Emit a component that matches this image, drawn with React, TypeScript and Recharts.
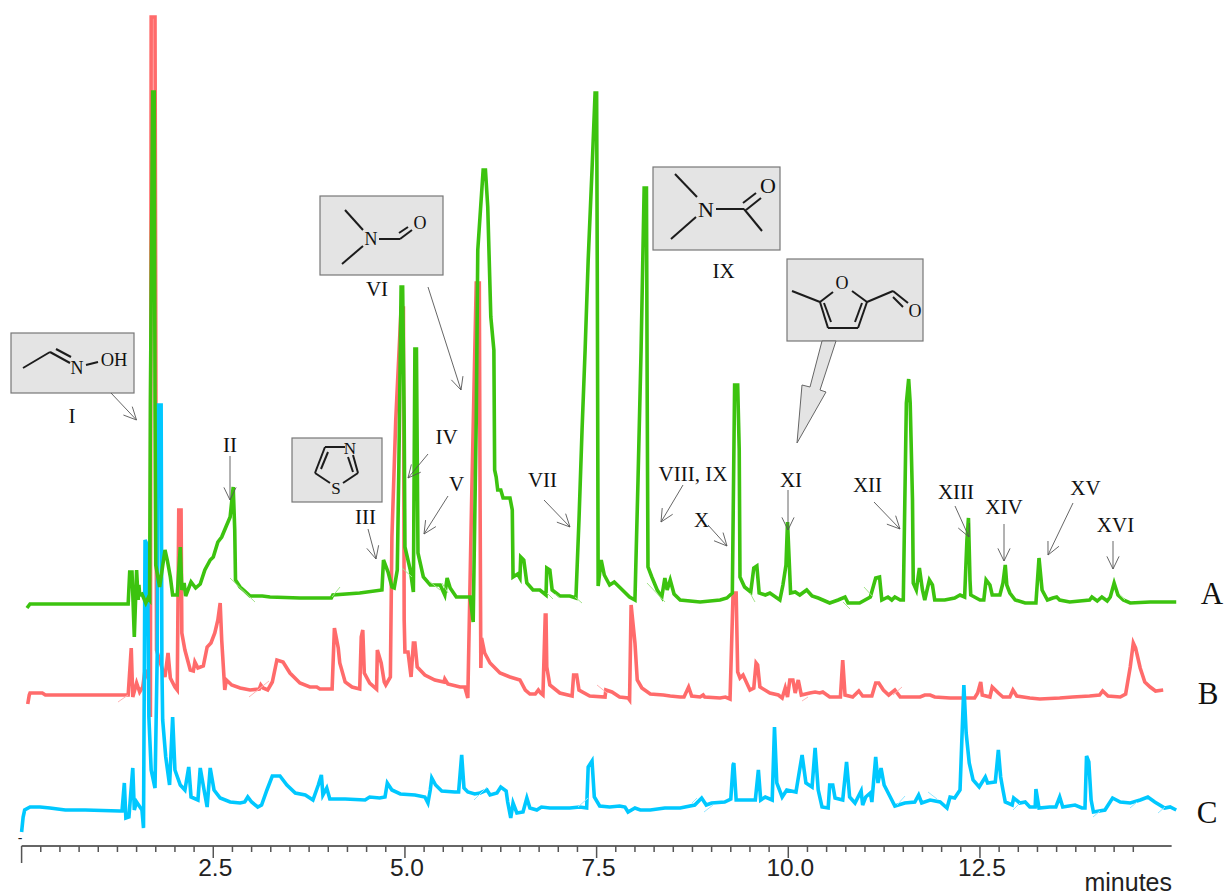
import { LineChart, Line, XAxis, YAxis, ReferenceLine } from 'recharts';

// [retention time in minutes, detector response]
const traceA: [number, number][] = [
  [0.07, 238], [0.11, 242], [1.39, 242], [1.41, 274], [1.44, 274], [1.47, 209], [1.5, 276], [1.52, 246], [1.53, 261],
  [1.54, 251], [1.57, 252], [1.62, 243], [1.65, 248], [1.67, 246], [1.68, 446], [1.71, 754], [1.73, 754], [1.74, 446],
  [1.75, 281], [1.8, 259], [1.87, 296], [1.9, 286], [1.94, 269], [1.97, 251], [2.03, 251], [2.07, 299], [2.09, 256],
  [2.12, 263], [2.14, 250], [2.21, 264], [2.27, 258], [2.33, 262], [2.39, 276], [2.46, 286], [2.5, 289], [2.56, 304],
  [2.61, 309], [2.67, 320], [2.72, 329], [2.76, 359], [2.78, 316], [2.79, 266], [2.85, 259], [2.91, 255], [2.98, 250],
  [3.14, 250], [3.24, 249], [3.63, 248], [4.04, 248], [4.06, 251], [4.41, 253], [4.7, 256], [4.72, 286], [4.78, 274],
  [4.83, 259], [4.86, 258], [4.9, 276], [4.92, 376], [4.95, 559], [4.97, 559], [4.99, 426], [5.0, 299], [5.07, 276],
  [5.11, 254], [5.13, 497], [5.15, 497], [5.17, 293], [5.24, 269], [5.33, 261], [5.46, 261], [5.52, 251], [5.55, 268],
  [5.59, 258], [5.67, 249], [5.78, 249], [5.85, 249], [5.89, 224], [5.93, 426], [5.95, 596], [6.02, 676], [6.05, 676],
  [6.08, 639], [6.12, 529], [6.16, 496], [6.17, 376], [6.19, 369], [6.21, 356], [6.25, 356], [6.28, 348], [6.37, 348],
  [6.4, 336], [6.41, 269], [6.47, 272], [6.5, 268], [6.51, 289], [6.55, 286], [6.59, 263], [6.67, 256], [6.76, 256],
  [6.84, 251], [6.85, 278], [6.89, 276], [6.92, 256], [7.02, 250], [7.15, 250], [7.23, 248], [7.27, 326], [7.31, 416],
  [7.35, 496], [7.39, 586], [7.44, 676], [7.48, 753], [7.5, 753], [7.51, 546], [7.52, 260], [7.56, 286], [7.6, 271],
  [7.67, 261], [7.73, 264], [7.81, 258], [7.93, 249], [8.0, 246], [8.04, 366], [8.08, 496], [8.12, 658], [8.15, 658],
  [8.16, 446], [8.17, 279], [8.22, 269], [8.29, 256], [8.35, 249], [8.39, 268], [8.42, 256], [8.46, 266], [8.51, 252],
  [8.59, 246], [8.85, 244], [9.11, 246], [9.2, 248], [9.27, 253], [9.3, 461], [9.34, 461], [9.36, 396], [9.37, 269],
  [9.43, 259], [9.51, 254], [9.55, 278], [9.59, 280], [9.62, 253], [9.7, 251], [9.76, 253], [9.89, 246], [9.93, 261],
  [9.97, 281], [9.99, 324], [10.02, 271], [10.03, 253], [10.09, 254], [10.15, 251], [10.24, 256], [10.31, 250],
  [10.39, 248], [10.45, 246], [10.54, 243], [10.65, 246], [10.74, 249], [10.78, 243], [10.93, 243], [11.07, 249],
  [11.14, 268], [11.19, 269], [11.22, 246], [11.3, 249], [11.35, 246], [11.39, 249], [11.46, 246], [11.5, 246],
  [11.54, 443], [11.57, 467], [11.59, 443], [11.62, 346], [11.63, 263], [11.67, 256], [11.71, 278], [11.75, 256],
  [11.78, 246], [11.84, 266], [11.88, 261], [11.91, 246], [12.04, 246], [12.17, 248], [12.24, 251], [12.3, 249],
  [12.33, 306], [12.35, 328], [12.37, 266], [12.38, 251], [12.5, 246], [12.55, 246], [12.58, 266], [12.63, 261],
  [12.66, 251], [12.76, 251], [12.8, 263], [12.83, 281], [12.85, 261], [12.89, 253], [12.96, 246], [13.09, 243],
  [13.23, 243], [13.27, 288], [13.31, 256], [13.38, 246], [13.45, 248], [13.5, 249], [13.54, 246], [13.67, 244],
  [13.93, 246], [13.96, 249], [14.03, 245], [14.09, 249], [14.16, 245], [14.2, 249], [14.25, 263], [14.3, 251],
  [14.37, 246], [14.46, 243], [14.72, 244], [15.06, 244],
];

const traceB: [number, number][] = [
  [0.08, 142], [0.1, 151], [0.11, 153], [0.27, 153], [0.31, 151], [1.39, 151], [1.43, 198], [1.45, 149], [1.5, 163],
  [1.54, 154], [1.58, 159], [1.61, 176], [1.66, 166], [1.68, 129], [1.69, 829], [1.74, 829], [1.76, 196], [1.81, 183],
  [1.87, 169], [1.91, 193], [1.94, 168], [2.0, 159], [2.03, 156], [2.05, 336], [2.08, 336], [2.09, 213], [2.13, 196],
  [2.2, 176], [2.24, 175], [2.26, 184], [2.3, 178], [2.37, 180], [2.42, 199], [2.47, 203], [2.52, 213], [2.56, 226],
  [2.59, 243], [2.61, 206], [2.65, 156], [2.67, 166], [2.74, 161], [2.85, 158], [2.98, 156], [3.1, 157], [3.12, 161],
  [3.15, 158], [3.21, 156], [3.27, 164], [3.33, 186], [3.41, 184], [3.5, 173], [3.63, 163], [3.76, 159], [3.85, 159],
  [3.89, 157], [4.05, 157], [4.08, 218], [4.13, 198], [4.15, 183], [4.22, 164], [4.31, 159], [4.41, 157], [4.43, 209],
  [4.45, 216], [4.47, 173], [4.54, 163], [4.63, 157], [4.64, 196], [4.69, 183], [4.73, 164], [4.75, 161], [4.81, 169],
  [4.83, 309], [4.88, 426], [4.95, 538], [4.98, 538], [4.99, 226], [5.0, 194], [5.04, 194], [5.08, 169], [5.11, 203],
  [5.13, 203], [5.16, 179], [5.26, 171], [5.39, 166], [5.51, 164], [5.52, 167], [5.56, 162], [5.72, 159], [5.78, 159],
  [5.82, 148], [5.87, 346], [5.93, 563], [5.97, 563], [5.98, 346], [5.99, 178], [6.0, 208], [6.04, 193], [6.11, 183],
  [6.24, 173], [6.37, 169], [6.5, 166], [6.57, 156], [6.63, 152], [6.7, 152], [6.74, 156], [6.77, 153], [6.8, 151],
  [6.83, 231], [6.84, 231], [6.85, 179], [6.89, 161], [7.02, 153], [7.18, 150], [7.2, 171], [7.24, 171], [7.27, 156],
  [7.41, 150], [7.61, 149], [7.62, 156], [7.7, 154], [7.8, 149], [7.91, 148], [7.93, 146], [7.95, 241], [8.0, 203],
  [8.03, 166], [8.09, 158], [8.2, 152], [8.37, 151], [8.46, 150], [8.59, 149], [8.64, 149], [8.7, 159], [8.74, 150],
  [8.85, 149], [8.89, 151], [8.91, 149], [9.11, 148], [9.18, 149], [9.24, 147], [9.28, 253], [9.32, 253], [9.34, 174],
  [9.37, 168], [9.41, 171], [9.5, 156], [9.55, 158], [9.58, 183], [9.6, 181], [9.63, 159], [9.76, 153], [9.87, 151],
  [9.92, 148], [9.96, 158], [9.99, 149], [10.02, 166], [10.06, 166], [10.09, 153], [10.13, 166], [10.17, 151],
  [10.28, 153], [10.35, 154], [10.41, 153], [10.45, 154], [10.54, 149], [10.68, 149], [10.71, 186], [10.74, 151],
  [10.84, 149], [10.92, 155], [10.97, 150], [11.09, 150], [11.14, 163], [11.18, 163], [11.24, 156], [11.31, 151],
  [11.39, 156], [11.46, 149], [11.72, 149], [11.78, 151], [11.85, 151], [11.91, 149], [12.11, 148], [12.43, 148],
  [12.47, 153], [12.51, 164], [12.53, 151], [12.63, 149], [12.66, 159], [12.74, 153], [12.8, 149], [12.89, 149],
  [12.93, 156], [12.98, 150], [13.15, 148], [13.28, 147], [13.54, 148], [13.71, 149], [13.93, 150], [14.06, 151],
  [14.1, 155], [14.17, 150], [14.33, 149], [14.4, 152], [14.46, 179], [14.5, 203], [14.53, 198], [14.59, 178],
  [14.65, 164], [14.72, 159], [14.79, 155], [14.89, 156],
];

const traceC: [number, number][] = [
  [0.0, 14], [0.02, 29], [0.04, 36], [0.11, 39], [0.24, 39], [0.37, 38], [0.57, 36], [0.83, 36], [1.28, 35], [1.31, 35],
  [1.34, 63], [1.36, 28], [1.4, 29], [1.45, 78], [1.47, 36], [1.5, 44], [1.57, 36], [1.59, 18], [1.61, 306], [1.64, 301],
  [1.66, 129], [1.69, 76], [1.74, 58], [1.77, 196], [1.78, 441], [1.82, 441], [1.83, 179], [1.84, 126], [1.88, 89],
  [1.93, 61], [1.97, 129], [2.0, 76], [2.07, 61], [2.13, 56], [2.18, 79], [2.21, 49], [2.3, 46], [2.33, 78], [2.38, 56],
  [2.42, 39], [2.46, 78], [2.51, 56], [2.59, 48], [2.72, 44], [2.85, 43], [2.91, 44], [2.95, 49], [3.0, 44], [3.08, 39],
  [3.13, 41], [3.2, 56], [3.27, 70], [3.37, 70], [3.46, 61], [3.57, 53], [3.7, 51], [3.8, 46], [3.87, 61], [3.91, 71],
  [3.93, 51], [3.98, 58], [4.02, 47], [4.22, 47], [4.48, 46], [4.54, 49], [4.67, 48], [4.74, 49], [4.77, 63], [4.83, 56],
  [4.94, 52], [5.13, 51], [5.26, 49], [5.3, 43], [5.33, 56], [5.35, 68], [5.4, 61], [5.48, 55], [5.65, 54], [5.7, 54],
  [5.74, 91], [5.77, 58], [5.82, 54], [5.91, 52], [5.98, 53], [6.07, 56], [6.11, 51], [6.2, 53], [6.25, 59], [6.32, 55],
  [6.34, 44], [6.38, 28], [6.41, 43], [6.46, 33], [6.54, 34], [6.59, 48], [6.63, 38], [6.72, 36], [6.78, 39], [6.89, 38],
  [7.15, 38], [7.28, 39], [7.37, 38], [7.39, 79], [7.44, 85], [7.47, 49], [7.54, 40], [7.67, 39], [7.8, 40], [7.87, 39],
  [7.91, 34], [8.0, 38], [8.07, 36], [8.2, 36], [8.39, 38], [8.59, 38], [8.78, 41], [8.87, 48], [8.93, 41], [9.0, 43],
  [9.17, 44], [9.25, 47], [9.28, 81], [9.29, 83], [9.32, 46], [9.44, 46], [9.57, 46], [9.61, 76], [9.64, 46], [9.7, 49],
  [9.79, 46], [9.82, 119], [9.85, 63], [9.92, 49], [9.98, 56], [10.1, 54], [10.18, 91], [10.23, 63], [10.31, 59],
  [10.35, 98], [10.39, 56], [10.44, 39], [10.52, 38], [10.54, 61], [10.58, 61], [10.61, 48], [10.71, 46], [10.76, 84],
  [10.8, 49], [10.87, 43], [10.95, 55], [10.97, 41], [11.01, 49], [11.07, 53], [11.09, 44], [11.14, 89], [11.17, 63],
  [11.21, 78], [11.25, 61], [11.33, 49], [11.39, 40], [11.52, 43], [11.65, 44], [11.7, 51], [11.74, 43], [11.85, 46],
  [11.98, 44], [12.07, 38], [12.11, 49], [12.17, 48], [12.24, 56], [12.29, 161], [12.32, 113], [12.36, 83], [12.41, 66],
  [12.49, 59], [12.57, 69], [12.6, 63], [12.7, 64], [12.74, 96], [12.77, 69], [12.8, 56], [12.83, 44], [12.92, 41],
  [12.94, 48], [13.02, 43], [13.09, 44], [13.15, 39], [13.22, 39], [13.23, 57], [13.27, 38], [13.41, 39], [13.49, 39],
  [13.54, 49], [13.58, 39], [13.74, 41], [13.83, 38], [13.87, 38], [13.89, 90], [13.92, 84], [13.95, 46], [13.98, 34],
  [14.13, 36], [14.23, 48], [14.33, 44], [14.46, 43], [14.59, 46], [14.69, 49], [14.78, 44], [14.91, 38], [14.98, 39],
  [15.06, 36],
];

const axisTicks = Array.from({ length: 59 }, (_, i) => i * 0.25);
const labelledTicks = [2.5, 5, 7.5, 10, 12.5];

const toRows = (pairs: [number, number][]) => pairs.map(([t, v]) => ({ t, v }));

const SANS = '"Liberation Sans", Arial, sans-serif';
const SERIF = '"Liberation Serif", "Times New Roman", serif';
const BOX_FILL = '#e4e4e4';
const BOX_STROKE = '#777777';
const BOND = '#1c1c1c';

function AxisTick({ x, y, payload }: any) {
  const value = payload.value;
  const major = labelledTicks.includes(value);
  const len = value === 0 ? 17 : major ? 12 : 6;
  const top = y - 2;
  return (
    <g>
      <line x1={x} x2={x} y1={top} y2={top + len} stroke="#555555" strokeWidth={1.5} />
      {major && (
        <text x={x + 2} y={top + 30} textAnchor="middle" fontFamily={SANS} fontSize={24.5} fill="#222222">
          {value.toFixed(1)}
        </text>
      )}
    </g>
  );
}

// thin callout with an open arrow head
function Arrow({ from, to }: { from: [number, number]; to: [number, number] }) {
  const angle = Math.atan2(to[1] - from[1], to[0] - from[0]);
  const wing = (side: number) => [
    to[0] - 14 * Math.cos(angle + side * 0.45),
    to[1] - 14 * Math.sin(angle + side * 0.45),
  ];
  const [ax, ay] = wing(1);
  const [bx, by] = wing(-1);
  return (
    <g stroke="#555555" strokeWidth={0.9} fill="none">
      <line x1={from[0]} y1={from[1]} x2={to[0]} y2={to[1]} />
      <polyline points={`${ax},${ay} ${to[0]},${to[1]} ${bx},${by}`} />
    </g>
  );
}

function Note({ x, y, size = 21, children }: any) {
  return (
    <text x={x} y={y} textAnchor="middle" fontFamily={SERIF} fontSize={size} fill="#111111">
      {children}
    </text>
  );
}

function Bonds({ lines }: { lines: number[][] }) {
  return (
    <g stroke={BOND} strokeWidth={2} fill="none">
      {lines.map((p, i) => (
        <line key={i} x1={p[0]} y1={p[1]} x2={p[2]} y2={p[3]} />
      ))}
    </g>
  );
}

// the little integration marks the data system leaves on each trace
function Marks({ color, lines }: { color: string; lines: number[][] }) {
  return (
    <g stroke={color} strokeWidth={1} fill="none">
      {lines.map((p, i) => (
        <line key={i} x1={p[0]} y1={p[1]} x2={p[2]} y2={p[3]} />
      ))}
    </g>
  );
}

function Box({ x, y, w, h }: any) {
  return <rect x={x} y={y} width={w} height={h} fill={BOX_FILL} stroke={BOX_STROKE} strokeWidth={1.2} />;
}

function Annotations() {
  return (
    <svg width={1226} height={895} style={{ position: 'absolute', left: 0, top: 0, pointerEvents: 'none' }}>
      <Marks
        color="#a4e48c"
        lines={[
          [230, 578, 255, 602], [332, 597, 340, 587], [402, 568, 412, 577], [429, 581, 440, 590], [442, 583, 448, 593],
          [547, 593, 553, 599], [555, 594, 560, 598], [575, 597, 582, 603], [647, 583, 665, 602], [750, 593, 755, 602],
          [843, 602, 850, 609], [864, 587, 873, 597], [1120, 595, 1125, 600],
        ]}
      />
      <Marks
        color="#ffb4b4"
        lines={[[118, 702, 128, 695], [249, 697, 269, 681], [597, 685, 607, 693], [802, 701, 808, 697], [893, 695, 902, 687]]}
      />
      <Marks
        color="#94e6ff"
        lines={[
          [474, 800, 487, 787], [578, 807, 588, 798], [692, 803, 697, 798], [704, 812, 713, 805], [1013, 810, 1020, 803],
          [897, 805, 905, 796], [1093, 817, 1100, 811], [928, 792, 937, 799], [1130, 808, 1137, 802], [1158, 813, 1165, 807],
        ]}
      />

      {/* structures */}
      <Box x={11} y={333} w={123} h={60} />
      <Bonds lines={[[23, 368, 50, 352], [50, 352, 70, 363], [56, 349, 71, 357], [86, 365, 98, 362]]} />
      <Note x={77} y={374} size={18}>N</Note>
      <Note x={114} y={366} size={18.5}>OH</Note>

      <Box x={292} y={438} w={90} h={64} />
      <Bonds lines={[
        [325, 447, 345, 447], [325, 447, 315, 473], [321, 469, 328, 452], [315, 473, 330, 483],
        [343, 483, 358, 473], [358, 473, 353, 455], [348, 457, 353, 472],
      ]} />
      <Note x={350} y={454} size={17}>N</Note>
      <Note x={336} y={494} size={17}>S</Note>

      <Box x={320} y={196} w={123} h={79} />
      <Bonds lines={[
        [345, 210, 363, 230], [363, 246, 342, 264], [379, 239, 400, 239], [400, 239, 412, 230], [399, 233, 408, 227],
      ]} />
      <Note x={371} y={245} size={18}>N</Note>
      <Note x={420} y={229} size={18}>O</Note>

      <Box x={653} y={167} w={127} h={83} />
      <Bonds lines={[
        [675, 174, 697, 197], [696, 217, 671, 239], [716, 209, 744, 209], [744, 209, 762, 231],
        [746, 210, 761, 198], [743, 203, 756, 193],
      ]} />
      <Note x={706} y={217} size={22}>N</Note>
      <Note x={768} y={193} size={22}>O</Note>

      <Box x={787} y={259} w={136} h={82} />
      <Bonds lines={[
        [792, 291, 820, 302], [820, 302, 828, 328], [828, 328, 858, 328], [858, 328, 867, 302], [820, 302, 833, 292],
        [867, 302, 852, 291], [824, 303, 831, 322], [862, 303, 855, 322], [867, 302, 893, 291], [893, 291, 908, 303],
        [893, 297, 903, 307],
      ]} />
      <Note x={842} y={289} size={18}>O</Note>
      <Note x={915} y={317} size={18}>O</Note>
      <polygon
        points="822,341 810,387 802,385 797,443 826,392 820,390 836,341"
        fill={BOX_FILL}
        stroke="#666666"
        strokeWidth={1}
      />

      {/* peak labels */}
      <Note x={72} y={423}>I</Note>
      <Note x={230} y={452}>II</Note>
      <Note x={365.5} y={524}>III</Note>
      <Note x={446.5} y={444}>IV</Note>
      <Note x={456.5} y={491}>V</Note>
      <Note x={377} y={296}>VI</Note>
      <Note x={542.5} y={487}>VII</Note>
      <Note x={693} y={481}>VIII, IX</Note>
      <Note x={701.5} y={527}>X</Note>
      <Note x={723.5} y={278}>IX</Note>
      <Note x={791} y={487}>XI</Note>
      <Note x={867.5} y={492}>XII</Note>
      <Note x={956} y={499}>XIII</Note>
      <Note x={1004} y={514}>XIV</Note>
      <Note x={1085.5} y={495}>XV</Note>
      <Note x={1115.5} y={532}>XVI</Note>

      <Arrow from={[111, 393]} to={[136.5, 420]} />
      <Arrow from={[230, 456]} to={[230, 500]} />
      <Arrow from={[368, 529]} to={[376, 559]} />
      <Arrow from={[428, 454]} to={[408, 478]} />
      <Arrow from={[448, 496]} to={[424, 534]} />
      <Arrow from={[428, 287]} to={[461, 390]} />
      <Arrow from={[544, 500]} to={[570, 527]} />
      <Arrow from={[683, 485]} to={[661, 522]} />
      <Arrow from={[708, 525]} to={[727, 546]} />
      <Arrow from={[788, 490]} to={[788, 530]} />
      <Arrow from={[874, 502]} to={[900, 529]} />
      <Arrow from={[955, 506]} to={[969, 537]} />
      <Arrow from={[1004, 524]} to={[1004, 561]} />
      <Arrow from={[1073, 503]} to={[1048, 555]} />
      <Arrow from={[1113, 541]} to={[1113, 569]} />

      {/* trace letters */}
      <Note x={1212} y={604} size={31}>A</Note>
      <Note x={1208} y={704} size={31}>B</Note>
      <Note x={1207} y={823} size={31}>C</Note>

      <text x={20} y={843} textAnchor="middle" fontFamily={SANS} fontSize={14} fill="#222222">-</text>
      <text x={1172} y={891} textAnchor="end" fontFamily={SANS} fontSize={25} fill="#222222">minutes</text>
    </svg>
  );
}

export default function App() {
  return (
    <div style={{ position: 'absolute', left: 0, top: 0, width: 1226, height: 895, background: '#ffffff' }}>
      <LineChart width={1226} height={895} margin={{ top: 0, right: 46.7, bottom: 0, left: 21.6 }}>
        <XAxis
          dataKey="t"
          type="number"
          domain={[0, 15.1]}
          ticks={axisTicks}
          interval={0}
          axisLine={false}
          tickLine={false}
          tickSize={0}
          height={49}
          tick={<AxisTick />}
        />
        <YAxis type="number" domain={[0, 846]} hide />
        <ReferenceLine segment={[{ x: 0, y: 0 }, { x: 15, y: 0 }]} stroke="#666666" strokeWidth={2} />
        <Line data={toRows(traceB)} dataKey="v" name="B" stroke="#ff6b6b" strokeWidth={3.6} dot={false} isAnimationActive={false} />
        <Line data={toRows(traceC)} dataKey="v" name="C" stroke="#00c8ff" strokeWidth={3.6} dot={false} isAnimationActive={false} />
        <Line data={toRows(traceA)} dataKey="v" name="A" stroke="#3cc30f" strokeWidth={3.6} dot={false} isAnimationActive={false} />
      </LineChart>
      <Annotations />
    </div>
  );
}
